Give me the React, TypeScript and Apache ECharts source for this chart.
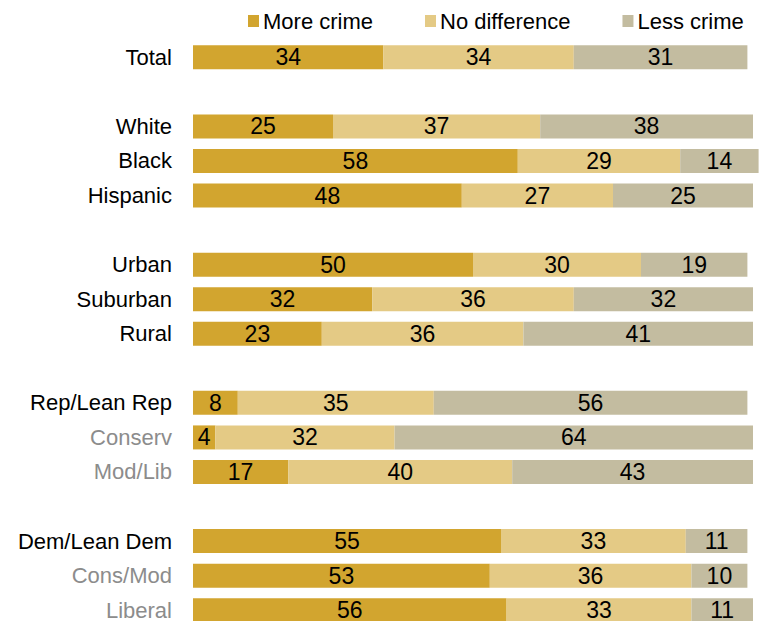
import React, { useEffect, useRef } from "react";
import * as echarts from "echarts";

const categories = [
  "Total", "", "White", "Black", "Hispanic", " ", "Urban", "Suburban", "Rural", "  ",
  "Rep/Lean Rep", "Conserv", "Mod/Lib", "   ", "Dem/Lean Dem", "Cons/Mod", "Liberal",
];
const grayLabels = ["Conserv", "Mod/Lib", "Cons/Mod", "Liberal"];
const moreCrime = [34, null, 25, 58, 48, null, 50, 32, 23, null, 8, 4, 17, null, 55, 53, 56];
const noDifference = [34, null, 37, 29, 27, null, 30, 36, 36, null, 35, 32, 40, null, 33, 36, 33];
const lessCrime = [31, null, 38, 14, 25, null, 19, 32, 41, null, 56, 64, 43, null, 11, 10, 11];
const seriesNames = ["More crime", "No difference", "Less crime"];
const colors = ["#D2A52F", "#E4CA85", "#C3BCA0"];

export default function App() {
  const ref = useRef<HTMLDivElement>(null);
  useEffect(() => {
    if (!ref.current) return;
    const chart = echarts.init(ref.current, null, { renderer: "svg" });
    const font = "'Liberation Sans', Arial, sans-serif";
    const data = [moreCrime, noDifference, lessCrime];
    chart.setOption({
      animation: false,
      textStyle: { fontFamily: font },
      legend: {
        top: 5,
        left: 243,
        itemWidth: 11,
        itemHeight: 12,
        itemGap: 52,
        icon: "rect",
        textStyle: { fontSize: 22, color: "#000", fontFamily: font, padding: [0, 0, 0, -1] },
        data: seriesNames,
      },
      grid: { left: 193, width: 588, top: 40, height: 587.5, outerBoundsMode: "none", containLabel: false },
      xAxis: { type: "value", min: 0, max: 105, show: false },
      yAxis: {
        type: "category",
        inverse: true,
        data: categories,
        axisLine: { show: false },
        axisTick: { show: false },
        axisLabel: {
          margin: 21,
          fontSize: 22,
          fontFamily: font,
          color: (v: string) => (grayLabels.includes(v) ? "#8C8C8C" : "#000"),
        },
      },
      series: seriesNames.map((name, i) => ({
        name,
        type: "bar",
        stack: "all",
        barWidth: 24,
        itemStyle: { color: colors[i] },
        label: {
          show: true,
          position: "inside",
          color: "#000",
          fontSize: 23,
          fontFamily: font,
        },
        data: data[i],
      })),
    });
    return () => chart.dispose();
  }, []);
  return <div ref={ref} style={{ width: 766, height: 621, position: "absolute", left: 0, top: 0 }} />;
}
